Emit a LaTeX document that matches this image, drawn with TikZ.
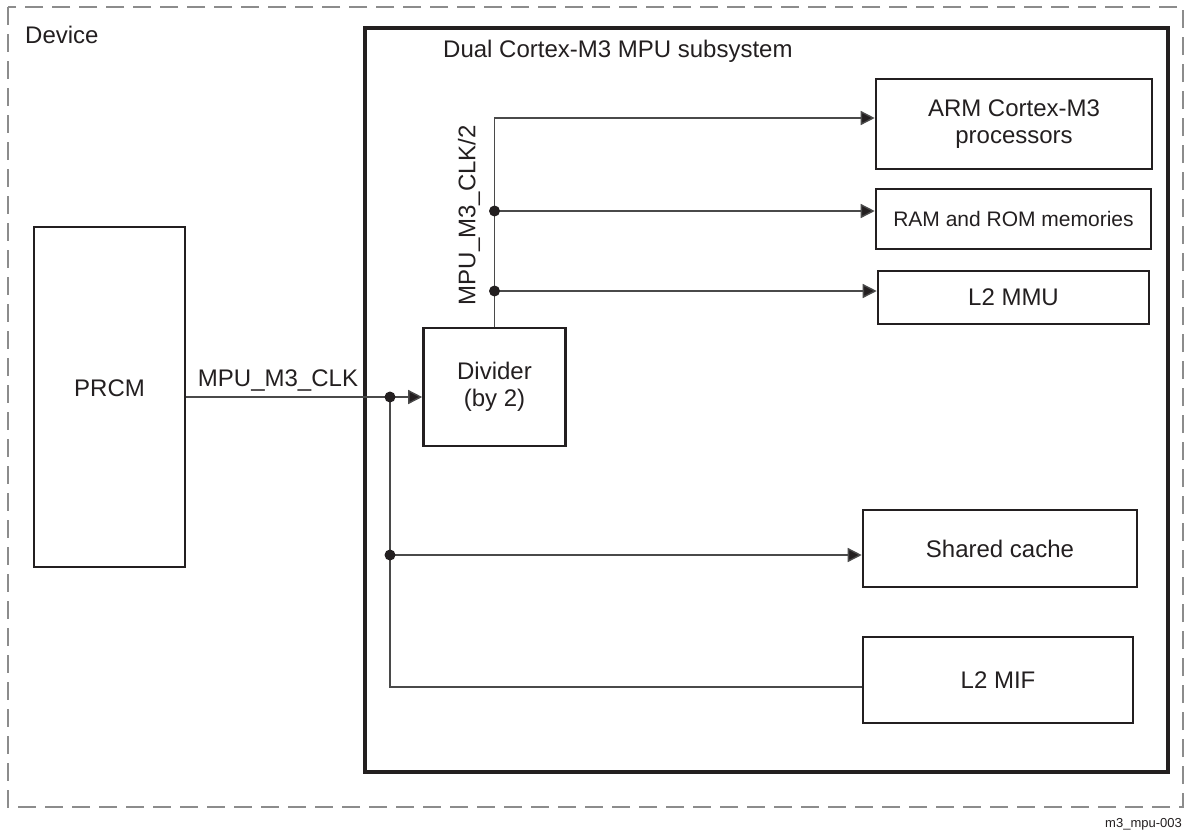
\documentclass[tikz,border=0pt]{standalone}
\usepackage{fontspec}
\setmainfont{Liberation Sans}
\usetikzlibrary{arrows.meta}
\definecolor{boxc}{HTML}{231F20}
\definecolor{wirec}{HTML}{4A4A4A}
\definecolor{dashc}{HTML}{8C8C8C}
\begin{document}
\begin{tikzpicture}[x=1pt,y=-1pt,
  box/.style={draw=boxc, line width=2.6pt, inner sep=0pt, align=center, text=boxc,
    font=\fontsize{24}{27}\selectfont},
  bigbox/.style={draw=boxc, line width=3.6pt, inner sep=0pt},
  wire/.style={draw=wirec, line width=1.4pt},
  arr/.style={wire, -{Triangle[length=14pt,width=14pt,fill=boxc]}},
  jdot/.style={circle, fill=boxc, inner sep=0pt, minimum size=11pt},
  lbl/.style={font=\fontsize{24}{28}\selectfont, text=boxc, inner sep=0pt}]
\useasboundingbox (0,0) rectangle (1185,831);

% outer dashed device boundary
\draw[dashc, line width=1.4pt, dash pattern=on 18pt off 9pt] (8,7) rectangle (1183,807);
\node[lbl, anchor=base west] (devlbl) at (25,43) {Device};

% subsystem
\node[bigbox, minimum width=803pt, minimum height=744pt] (sub) at (766.5,400) {};
\node[lbl, anchor=base west] (sublbl) at (443,57) {Dual Cortex-M3 MPU subsystem};

% blocks
\node[box, minimum width=151pt, minimum height=340pt, text depth=18pt] (prcm) at (109.5,397) {PRCM};
\node[box, minimum width=142pt, minimum height=118pt] (div) at (494.5,387) {Divider\\(by 2)};
\node[box, minimum width=276pt, minimum height=90pt] (arm) at (1014,124) {ARM Cortex-M3\\processors};
\node[box, minimum width=275pt, minimum height=60pt, font=\fontsize{21}{25}\selectfont] (ram) at (1013.5,219) {RAM and ROM memories};
\node[box, minimum width=271pt, minimum height=53pt] (mmu) at (1013.5,297.5) {L2 MMU};
\node[box, minimum width=274pt, minimum height=77pt] (cache) at (1000,548.5) {Shared cache};
\node[box, minimum width=270pt, minimum height=86pt] (mif) at (998,680) {L2 MIF};

% junctions
\coordinate (j1) at (390,397);
\coordinate (j2) at (390,555);
\coordinate (j3) at (390,687);
\coordinate (k0) at (494.5,118);
\coordinate (k1) at (494.5,211);
\coordinate (k2) at (494.5,291);

% MPU_M3_CLK distribution
\draw[arr] (prcm.east) -- (prcm.east -| div.west);
\draw[wire] (j1) -- (j3) -- (j3 -| mif.west);
\draw[arr] (j2) -- (j2 -| cache.west);
\node[lbl, anchor=base] (clklbl) at (278,386) {MPU\_M3\_CLK};

% MPU_M3_CLK/2 distribution
\draw[arr] (div.north) -- (k0) -- (k0 -| arm.west);
\draw[arr] (k1) -- (k1 -| ram.west);
\draw[arr] (k2) -- (k2 -| mmu.west);
\node[lbl, rotate=90] (clk2lbl) at (469,215) {MPU\_M3\_CLK/2};

\node[jdot] (d1) at (j1) {};
\node[jdot] (d2) at (j2) {};
\node[jdot] (d3) at (k1) {};
\node[jdot] (d4) at (k2) {};

\node[inner sep=0pt, anchor=base east, text=boxc, font=\fontsize{13}{16}\selectfont] (fig) at (1182,827) {m3\_mpu-003};
\end{tikzpicture}
\end{document}
